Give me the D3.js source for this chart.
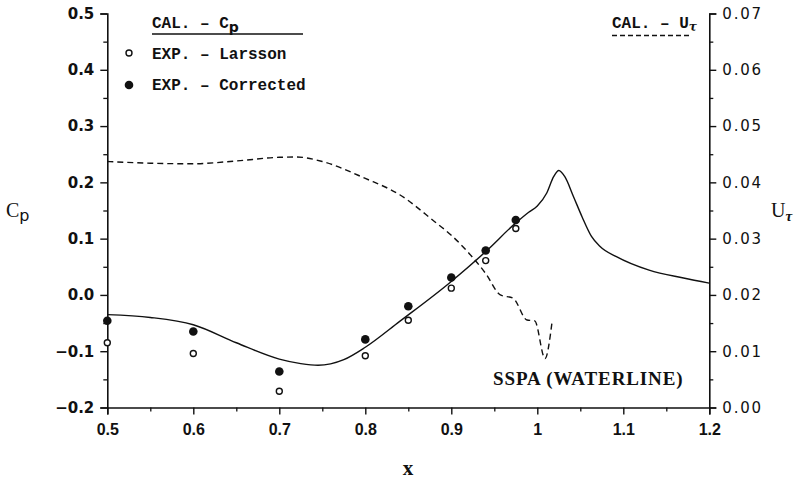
<!DOCTYPE html>
<html>
<head>
<meta charset="utf-8">
<script src="https://cdn.jsdelivr.net/npm/d3@7"></script>
<style>
  html, body { margin: 0; padding: 0; background: #fff; }
  svg { display: block; }
</style>
</head>
<body>
<script>
// ---------- data ----------
const cpX = [0.5,0.55,0.6,0.65,0.7,0.725,0.745,0.775,0.8,0.84,0.9,0.94,0.975,0.99,1.0,1.011,1.019,1.025,1.032,1.042,1.052,1.063,1.073,1.092,1.13,1.17,1.2];
const cpY = [-0.035,-0.040,-0.053,-0.085,-0.114,-0.122,-0.125,-0.115,-0.093,-0.047,0.024,0.077,0.128,0.147,0.158,0.181,0.210,0.221,0.210,0.175,0.139,0.104,0.086,0.068,0.044,0.030,0.021];

const utX = [0.5,0.55,0.6,0.65,0.7,0.72,0.75,0.8,0.84,0.88,0.9,0.92,0.94,0.957,0.972,0.988,0.997,1.009,1.017];
const utY = [0.0437,0.0434,0.0433,0.0438,0.04445,0.0445,0.0437,0.0407,0.0378,0.0331,0.0306,0.0275,0.0238,0.0200,0.0194,0.01555,0.0154,0.0087,0.0150];

const expX = [0.5,0.6,0.7,0.8,0.85,0.9,0.94,0.975];
const larssonY = [-0.085,-0.104,-0.171,-0.108,-0.045,0.012,0.061,0.118];
const correctedY = [-0.046,-0.065,-0.136,-0.079,-0.020,0.031,0.079,0.133];

const xTicks = [0.5,0.6,0.7,0.8,0.9,1.0,1.1,1.2];
const xTickLabels = ["0.5","0.6","0.7","0.8","0.9","1","1.1","1.2"];
const xMinor = [0.55,0.65,0.75,0.85,0.95,1.05,1.15];
const yLTicks = [-0.2,-0.1,0.0,0.1,0.2,0.3,0.4,0.5];
const yLTickLabels = ["\u22120.2","\u22120.1","0.0","0.1","0.2","0.3","0.4","0.5"];
const yLMinor = [-0.15,-0.05,0.05,0.15,0.25,0.35,0.45];
const yRTicks = [0,0.01,0.02,0.03,0.04,0.05,0.06,0.07];
const yRTickLabels = ["0.00","0.01","0.02","0.03","0.04","0.05","0.06","0.07"];
const yRMinor = [0.005,0.015,0.025,0.035,0.045,0.055,0.065];

// ---------- layout ----------
const W = 803, H = 481;
const L = 107.3, R = 709.3, T = 13.5, B = 407.5;

const svg = d3.select("body").append("svg").attr("width", W).attr("height", H);

const x = d3.scaleLinear().domain([0.5, 1.2]).range([L, R]);
const yL = d3.scaleLinear().domain([-0.2, 0.5]).range([B, T]);
const yR = d3.scaleLinear().domain([0, 0.07]).range([B, T]);

const ink = "#111";

function styleAxis(g) {
  g.select(".domain").attr("stroke", ink).attr("stroke-width", 1.6);
  g.selectAll(".tick line").attr("stroke", ink).attr("stroke-width", 1.4);
}

// bottom axis
const gx = svg.append("g").attr("transform", `translate(0,${B})`)
  .call(d3.axisBottom(x).tickValues(xTicks).tickSizeOuter(0).tickSize(7).tickPadding(9)
    .tickFormat((d, i) => xTickLabels[i]));
styleAxis(gx);
gx.selectAll(".tick text").attr("font-family", "'Liberation Sans', Arial, sans-serif")
  .attr("font-weight", "bold").attr("font-size", 16).attr("fill", ink);
const gxm = svg.append("g").attr("transform", `translate(0,${B})`)
  .call(d3.axisBottom(x).tickValues(xMinor).tickSize(4).tickFormat(""));
gxm.select(".domain").remove();
gxm.selectAll(".tick line").attr("stroke", ink).attr("stroke-width", 1.3);

// left axis
const gl = svg.append("g").attr("transform", `translate(${L},0)`)
  .call(d3.axisLeft(yL).tickValues(yLTicks).tickSizeOuter(0).tickSize(7).tickPadding(6)
    .tickFormat((d, i) => yLTickLabels[i]));
styleAxis(gl);
gl.selectAll(".tick text").attr("font-family", "'DejaVu Sans', sans-serif")
  .attr("font-weight", "bold").attr("font-size", 15).attr("fill", ink);
const glm = svg.append("g").attr("transform", `translate(${L},0)`)
  .call(d3.axisLeft(yL).tickValues(yLMinor).tickSize(4).tickFormat(""));
glm.select(".domain").remove();
glm.selectAll(".tick line").attr("stroke", ink).attr("stroke-width", 1.3);

// right axis
const gr = svg.append("g").attr("transform", `translate(${R},0)`)
  .call(d3.axisRight(yR).tickValues(yRTicks).tickSizeOuter(0).tickSize(7).tickPadding(6)
    .tickFormat((d, i) => yRTickLabels[i]));
styleAxis(gr);
gr.selectAll(".tick text").attr("font-family", "'DejaVu Sans', sans-serif")
  .attr("font-size", 15).attr("letter-spacing", "1.8px").attr("fill", ink);
const grm = svg.append("g").attr("transform", `translate(${R},0)`)
  .call(d3.axisRight(yR).tickValues(yRMinor).tickSize(4).tickFormat(""));
grm.select(".domain").remove();
grm.selectAll(".tick line").attr("stroke", ink).attr("stroke-width", 1.3);

// ---------- curves ----------
const cpLine = d3.line().x(d => x(d[0])).y(d => yL(d[1])).curve(d3.curveMonotoneX);
svg.append("path").datum(cpX.map((v, i) => [v, cpY[i]]))
  .attr("d", cpLine).attr("fill", "none").attr("stroke", ink).attr("stroke-width", 1.4);

const utLine = d3.line().x(d => x(d[0])).y(d => yR(d[1])).curve(d3.curveMonotoneX);
svg.append("path").datum(utX.map((v, i) => [v, utY[i]]))
  .attr("d", utLine).attr("fill", "none").attr("stroke", ink).attr("stroke-width", 1.4)
  .attr("stroke-dasharray", "6,4");

// ---------- points ----------
svg.append("g").selectAll("circle").data(expX).join("circle")
  .attr("cx", d => x(d)).attr("cy", (d, i) => yL(larssonY[i])).attr("r", 3)
  .attr("fill", "#fff").attr("stroke", ink).attr("stroke-width", 1.4);
svg.append("g").selectAll("circle").data(expX).join("circle")
  .attr("cx", d => x(d)).attr("cy", (d, i) => yL(correctedY[i])).attr("r", 4.3)
  .attr("fill", ink);

// ---------- legend ----------
const mono = "'Liberation Mono', 'DejaVu Sans Mono', monospace";
const lg = svg.append("g").attr("font-family", mono).attr("font-weight", "bold")
  .attr("font-size", 16).attr("fill", ink);
const t1 = lg.append("text").attr("x", 152).attr("y", 28);
t1.append("tspan").text("CAL. \u2013 C");
t1.append("tspan").attr("dy", 4).attr("font-family", "'DejaVu Sans', sans-serif").attr("font-size", 14).text("p");
lg.append("line").attr("x1", 152).attr("x2", 303).attr("y1", 34).attr("y2", 34)
  .attr("stroke", ink).attr("stroke-width", 1.4);
lg.append("circle").attr("cx", 129).attr("cy", 53).attr("r", 3).attr("fill", "#fff")
  .attr("stroke", ink).attr("stroke-width", 1.4);
lg.append("text").attr("x", 152).attr("y", 59).text("EXP. \u2013 Larsson");
lg.append("circle").attr("cx", 129).attr("cy", 85).attr("r", 4.3).attr("fill", ink);
lg.append("text").attr("x", 152).attr("y", 90).text("EXP. \u2013 Corrected");

const t2 = lg.append("text").attr("x", 612).attr("y", 28);
t2.append("tspan").text("CAL. \u2013 U");
t2.append("tspan").attr("dy", 3).attr("font-family", "'DejaVu Serif', serif").attr("font-style", "italic").attr("font-size", 12).text("\u03c4");
lg.append("line").attr("x1", 612).attr("x2", 690).attr("y1", 35.5).attr("y2", 35.5)
  .attr("stroke", ink).attr("stroke-width", 1.4).attr("stroke-dasharray", "5,3");

// ---------- axis titles ----------
const serif = "'Liberation Serif', 'Times New Roman', serif";
const cpT = svg.append("text").attr("x", 6).attr("y", 217).attr("font-family", serif)
  .attr("font-size", 20).attr("fill", ink);
cpT.append("tspan").text("C");
cpT.append("tspan").attr("dy", 4).attr("font-family", "'DejaVu Sans', sans-serif").attr("font-size", 16).text("p");

const utT = svg.append("text").attr("x", 771).attr("y", 217).attr("font-family", serif)
  .attr("font-size", 20).attr("fill", ink);
utT.append("tspan").text("U");
utT.append("tspan").attr("dy", 4).attr("font-weight", "bold").attr("font-style", "italic").attr("font-size", 15).text("\u03c4");

svg.append("text").attr("x", 408).attr("y", 475).attr("text-anchor", "middle")
  .attr("font-family", serif).attr("font-weight", "bold").attr("font-size", 21).attr("fill", ink).text("x");

svg.append("text").attr("x", 493).attr("y", 385).attr("font-family", serif)
  .attr("font-weight", "bold").attr("font-size", 19).attr("letter-spacing", "0.9px")
  .attr("fill", ink).text("SSPA (WATERLINE)");
</script>
</body>
</html>
